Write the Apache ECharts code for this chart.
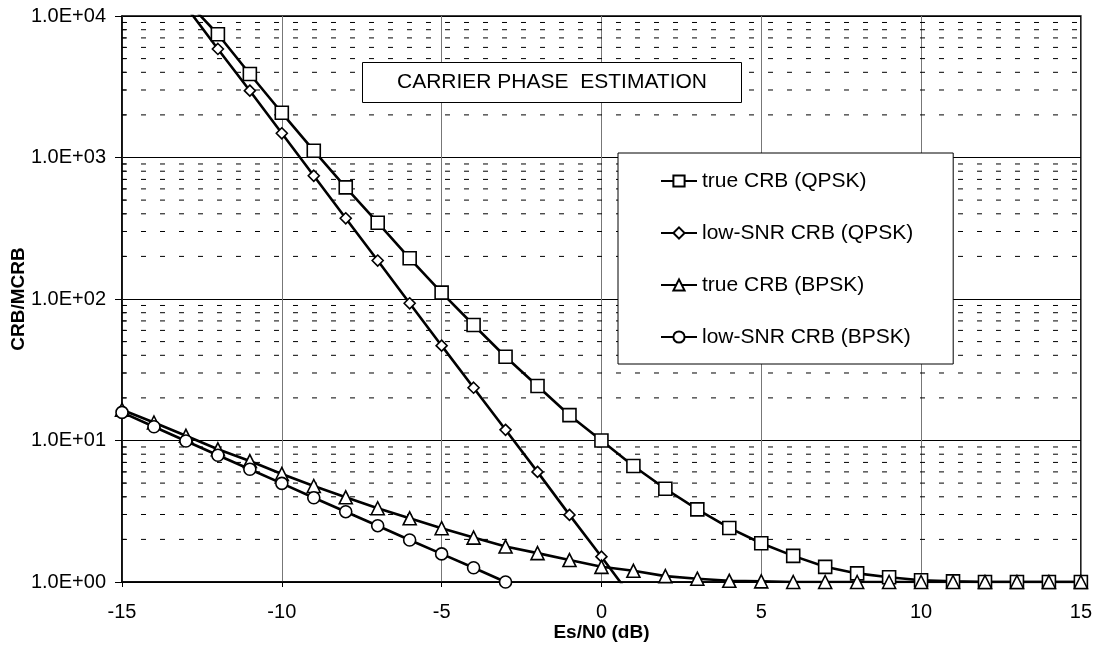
<!DOCTYPE html>
<html>
<head>
<meta charset="utf-8">
<script src="https://cdn.jsdelivr.net/npm/echarts@6/dist/echarts.min.js"></script>
<style>
  html, body { margin: 0; padding: 0; background: #fff; }
  #chart { width: 1095px; height: 650px; }
</style>
</head>
<body>
<div id="chart"></div>
<script>
// ---- data ----
const esn0 = [-15,-14,-13,-12,-11,-10,-9,-8,-7,-6,-5,-4,-3,-2,-1,0,1,2,3,4,5,6,7,8,9,10,11,12,13,14,15];

const trueQPSK = [null,null,12900,7430,3890,2070,1117,615,346,194,111,65.5,39.1,24.3,15.1,10.0,6.6,4.56,3.26,2.41,1.88,1.53,1.28,1.15,1.08,1.03,1.01,1.0,1.0,1.0,1.0];
const lowQPSK  = [null,null,11700,5850,2966,1483,743,372,187,93.3,46.8,23.6,11.9,6.0,2.98,1.51,0.75,null,null,null,null,null,null,null,null,null,null,null,null,null,null];
const trueBPSK = [16.5,13.4,10.8,8.67,7.16,5.80,4.77,3.97,3.32,2.82,2.40,2.06,1.78,1.60,1.43,1.28,1.20,1.10,1.055,1.02,1.01,1.0,1.0,1.0,1.0,1.0,1.0,1.0,1.0,1.0,1.0];
const lowBPSK  = [15.8,12.5,9.92,7.86,6.26,4.98,3.94,3.14,2.50,1.98,1.58,1.26,1.0,0.79,null,null,null,null,null,null,null,null,null,null,null,null,null,null,null,null,null];

const seriesNames = ['true CRB (QPSK)','low-SNR CRB (QPSK)','true CRB (BPSK)','low-SNR CRB (BPSK)'];
const xTicks = [-15,-10,-5,0,5,10,15];
const yDecades = [1,10,100,1000];
const minorSteps = [2,3,4,5,6,7,8,9];
const titleText = 'CARRIER PHASE  ESTIMATION';

// ---- build ----
const FONT = '"Liberation Sans", Arial, sans-serif';
function pairs(vals){ return esn0.map((x,i)=>[x, vals[i]]); }
const minorVals = [];
yDecades.forEach(d => minorSteps.forEach(m => minorVals.push([xTicks[0], d*m])));

function fmtE(v){
  const e = Math.round(Math.log10(v));
  const m = v/Math.pow(10,e);
  const s = String(Math.abs(e)).padStart(2,'0');
  return m.toFixed(1) + 'E' + (e<0?'-':'+') + s;
}

const symbols = [
  {symbol:'rect', size:13},
  {symbol:'diamond', size:11},
  {symbol:'triangle', size:13},
  {symbol:'circle', size:12}
];
const allVals = [trueQPSK, lowQPSK, trueBPSK, lowBPSK];

const lineSeries = allVals.map((vals,i)=>({
  name: seriesNames[i],
  type: 'line',
  data: pairs(vals),
  symbol: symbols[i].symbol,
  symbolSize: symbols[i].size,
  showSymbol: true,
  clip: true,
  z: 3,
  lineStyle: {color:'#000', width:2.6},
  itemStyle: {color:'#fff', borderColor:'#000', borderWidth:1.6},
  emphasis: {disabled:true},
  animation: false
}));

const minorSeries = {
  type: 'custom',
  name: 'minor',
  z: 1,
  silent: true,
  animation: false,
  data: minorVals,
  renderItem: function(params, api){
    const p = api.coord([api.value(0), api.value(1)]);
    const cs = params.coordSys;
    return {
      type: 'group',
      children: [
        {type:'line', shape:{x1:cs.x, y1:p[1], x2:cs.x+cs.width, y2:p[1]},
         style:{stroke:'#000', lineWidth:1, lineDash:[5,14]}},
        {type:'line', shape:{x1:cs.x, y1:p[1], x2:cs.x+4, y2:p[1]},
         style:{stroke:'#000', lineWidth:1}}
      ]
    };
  }
};

const chart = echarts.init(document.getElementById('chart'), null, {renderer:'canvas'});
chart.setOption({
  backgroundColor: '#fff',
  animation: false,
  textStyle: {fontFamily: FONT, color:'#000'},
  title: {
    text: titleText,
    left: 362, top: 62,
    padding: [9, 35],
    borderColor: '#000', borderWidth: 1,
    backgroundColor: '#fff',
    textStyle: {fontFamily: FONT, fontSize: 21, fontWeight: 'normal', color: '#000', lineHeight: 23}
  },
  legend: {
    data: seriesNames,
    orient: 'vertical',
    left: 618, top: 153,
    padding: [17, 40, 16, 42],
    itemWidth: 36, itemHeight: 14, itemGap: 30,
    backgroundColor: '#fff',
    borderColor: '#000', borderWidth: 1,
    textStyle: {fontFamily: FONT, fontSize: 21, color:'#000', lineHeight: 22},
    selectedMode: false
  },
  grid: {
    left: 122, right: 14, top: 16, bottom: 68,
    show: true, borderColor: '#000', borderWidth: 1.5, backgroundColor: 'transparent'
  },
  xAxis: {
    type: 'value',
    min: -15, max: 15, interval: 5,
    name: 'Es/N0 (dB)',
    nameLocation: 'middle',
    nameGap: 41,
    nameMoveOverlap: false,
    nameTextStyle: {fontFamily: FONT, fontSize: 19, fontWeight: 'bold', color:'#000', verticalAlign:'top'},
    axisLine: {show: true, onZero: false, lineStyle: {color:'#000', width:1.5}},
    axisTick: {show: true, inside: false, length: 5, lineStyle: {color:'#000'}},
    axisLabel: {fontFamily: FONT, fontSize: 20, color:'#000', margin: 20},
    splitLine: {show: true, lineStyle: {color:'#777', width:1}}
  },
  yAxis: {
    type: 'log',
    logBase: 10,
    min: 1, max: 10000,
    name: 'CRB/MCRB',
    nameLocation: 'middle',
    nameGap: 94,
    nameMoveOverlap: false,
    nameRotate: 90,
    nameTextStyle: {fontFamily: FONT, fontSize: 19, fontWeight: 'bold', color:'#000'},
    axisLine: {show: true, onZero: false, lineStyle: {color:'#000', width:1.5}},
    axisTick: {show: true, inside: false, length: 7, lineStyle: {color:'#000'}},
    axisLabel: {fontFamily: FONT, fontSize: 20, color:'#000', margin: 16, formatter: fmtE},
    splitLine: {show: true, lineStyle: {color:'#000', width:1}},
    minorTick: {show: false},
    minorSplitLine: {show: false}
  },
  series: [minorSeries].concat(lineSeries)
});
</script>
</body>
</html>
